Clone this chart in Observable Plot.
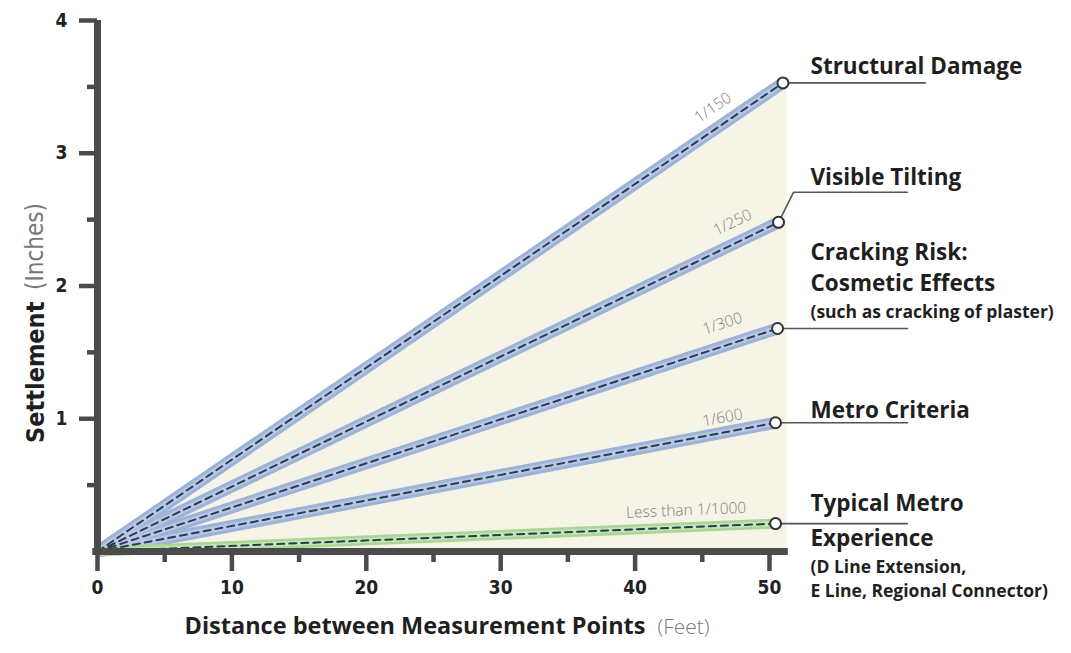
<!DOCTYPE html>
<html><head><meta charset="utf-8">
<script src="https://cdn.jsdelivr.net/npm/d3@7"></script>
<script src="https://cdn.jsdelivr.net/npm/@observablehq/plot@0.6"></script>
<style>
html,body{margin:0;padding:0;background:#fff;}
#chart svg{display:block;}
</style></head><body><div id="chart"></div>
<script>
// ---- data ----
const seriesLabels = ["1/150", "1/250", "1/300", "1/600", "Less than 1/1000"];
const endDistance = [51.0, 50.67, 50.6, 50.45, 50.45];      // feet
const endSettlement = [3.53, 2.48, 1.68, 0.97, 0.21];       // inches
const bandType = ["blue", "blue", "blue", "blue", "green"];
const annotTitles = [["Structural Damage"], ["Visible Tilting"], ["Cracking Risk:", "Cosmetic Effects"], ["Metro Criteria"], ["Typical Metro", "Experience"]];
const annotNotes = [[], [], ["(such as cracking of plaster)"], [], ["(D Line Extension,", "E Line, Regional Connector)"]];
const xMajorTicks = [0, 10, 20, 30, 40, 50];
const xMinorTicks = [5, 15, 25, 35, 45];
const yMajorTicks = [1, 2, 3, 4];
const yMinorTicks = [0.5, 1.5, 2.5, 3.5];
const xTitle = ["Distance between Measurement Points", "(Feet)"];
const yTitle = ["Settlement", "(Inches)"];

// ---- layout ----
const W = 1071, H = 653;
const mL = 97, mR = 302, mT = 20, mB = 102;
const xDom = [0, 50], yDom = [0, 4];
const kx = (W - mL - mR) / (xDom[1] - xDom[0]);
const ky = (H - mT - mB) / (yDom[1] - yDom[0]);
const angle = i => -Math.atan2(endSettlement[i] * ky, endDistance[i] * kx) * 180 / Math.PI;
const slopeAt = i => endSettlement[i] / endDistance[i];

const labelAtX = [45.8, 47.25, 46.5, 46.5, 43.8];
const labelLift = [23, 22, 23, 15, 17];
const annotTextX = 53.05;
const titleOffsets = [[-16], [-44], [-76, -45], [-12], [-20, 15]];
const noteOffsets = [[], [], [-16], [], [44, 68]];
const leaderEndX = [61.6, 60.27, 60.27, 60.27, 60.27];

const segs = seriesLabels.flatMap((name, i) => [
  {name, i, x: 0, y: 0},
  {name, i, x: endDistance[i], y: endSettlement[i]}
]);
const ends = seriesLabels.map((name, i) => ({name, i, x: endDistance[i], y: endSettlement[i]}));
const bg = [{x: 0, y: 0}, {x: 51.3, y: slopeAt(0) * 51.3}];

const leaders = seriesLabels.flatMap((name, i) => {
  const pts = [{name, x: endDistance[i], y: endSettlement[i]}];
  if (i === 1) pts.push({name, x: endDistance[i] + 15 / kx, y: endSettlement[i] + 30 / ky});
  pts.push({name, x: leaderEndX[i], y: pts[pts.length - 1].y});
  return pts;
});

const slopeLabels = seriesLabels.map((name, i) => ({
  name, x: labelAtX[i], y: slopeAt(i) * labelAtX[i] + labelLift[i] / ky, r: angle(i)
}));

const titleRows = annotTitles.flatMap((rows, i) => rows.map((t, j) => ({t, x: annotTextX, y: endSettlement[i] - titleOffsets[i][j] / ky})));
const noteRows = annotNotes.flatMap((rows, i) => rows.map((t, j) => ({t, x: annotTextX, y: endSettlement[i] - noteOffsets[i][j] / ky})));

const axisColor = "#4b4b4b";
const tickFont = "'DejaVu Sans Condensed', 'Liberation Sans Narrow', sans-serif";
const labelFont = "'Open Sans', Lato, sans-serif";

const blue = segs.filter(d => bandType[d.i] === "blue");
const green = segs.filter(d => bandType[d.i] === "green");

const chart = Plot.plot({
  width: W, height: H,
  marginLeft: mL, marginRight: mR, marginTop: mT, marginBottom: mB,
  x: {domain: xDom, axis: null},
  y: {domain: yDom, axis: null},
  style: {background: "#fff", overflow: "visible"},
  marks: [
    Plot.areaY(bg, {x: "x", y: "y", fill: "#f6f3e7"}),
    Plot.line(blue, {x: "x", y: "y", z: "name", stroke: "#9cb3d7", strokeWidth: 12, strokeLinecap: "butt"}),
    Plot.line(blue, {x: "x", y: "y", z: "name", stroke: "#b6c8e6", strokeWidth: 6, strokeLinecap: "butt"}),
    Plot.line(green, {x: "x", y: "y", z: "name", stroke: "#a9d697", strokeWidth: 10, strokeLinecap: "butt"}),
    Plot.line(green, {x: "x", y: "y", z: "name", stroke: "#c3e6b3", strokeWidth: 5, strokeLinecap: "butt"}),
    Plot.line(segs, {x: "x", y: "y", z: "name", stroke: "#2d3a50", strokeWidth: 2, strokeDasharray: "7,5"}),
    Plot.line(leaders, {x: "x", y: "y", z: "name", stroke: "#555", strokeWidth: 1.6}),
    Plot.dot(ends, {x: "x", y: "y", r: 5.5, fill: "white", stroke: "#333", strokeWidth: 2}),
    Plot.text(slopeLabels, {x: "x", y: "y", text: "name", rotate: "r", fill: "#808080", fontSize: 15.5, fontFamily: labelFont, fontWeight: 300}),
    // axes
    Plot.ruleY([0], {x1: -0.35, x2: 51.4, stroke: axisColor, strokeWidth: 7}),
    Plot.ruleX([0], {y1: 0, y2: 4, stroke: axisColor, strokeWidth: 7}),
    Plot.axisX({ticks: xMajorTicks, tickFormat: "d", label: null, tickSize: 20, tickPadding: 9, strokeWidth: 4.5, stroke: axisColor, fill: "#222",
      fontSize: 19, fontWeight: "bold", fontFamily: tickFont}),
    Plot.axisX({ticks: xMinorTicks, label: null, tickSize: 11, strokeWidth: 4.5, stroke: axisColor, text: null}),
    Plot.axisY({ticks: yMajorTicks, tickFormat: "d", label: null, tickSize: 18, tickPadding: 12, strokeWidth: 4.5, stroke: axisColor, fill: "#222",
      fontSize: 19, fontWeight: "bold", fontFamily: tickFont}),
    Plot.axisY({ticks: yMinorTicks, label: null, tickSize: 10, strokeWidth: 4.5, stroke: axisColor, text: null}),
    // annotations
    Plot.text(titleRows, {x: "x", y: "y", text: "t", textAnchor: "start", fill: "#1f1f1f", fontSize: 22.5, fontWeight: "bold", fontFamily: labelFont}),
    Plot.text(noteRows, {x: "x", y: "y", text: "t", textAnchor: "start", fill: "#1f1f1f", fontSize: 17.5, fontWeight: "bold", fontFamily: labelFont}),
    // axis titles
    Plot.text([xTitle[0]], {frameAnchor: "bottom", dx: 212, dy: 82, textAnchor: "end", fill: "#1f1f1f", fontSize: 23.5, fontWeight: "bold", fontFamily: labelFont}),
    Plot.text([xTitle[1]], {frameAnchor: "bottom", dx: 224, dy: 82, textAnchor: "start", fill: "#777", fontSize: 21, fontWeight: 300, fontFamily: labelFont}),
    Plot.text([yTitle[0]], {frameAnchor: "left", dx: -62, dy: 157, textAnchor: "start", rotate: -90, fill: "#1f1f1f", fontSize: 25, fontWeight: "bold", fontFamily: tickFont}),
    Plot.text([yTitle[1]], {frameAnchor: "left", dx: -62, dy: 4, textAnchor: "start", rotate: -90, fill: "#777", fontSize: 24, fontWeight: 300, fontFamily: tickFont})
  ]
});
document.getElementById("chart").append(chart);
</script></body></html>
